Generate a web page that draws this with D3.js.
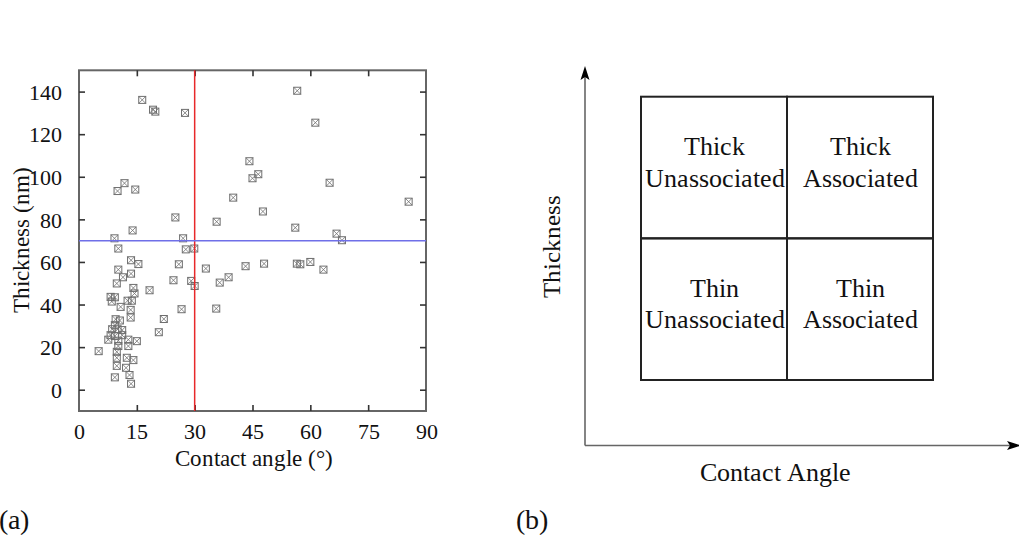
<!DOCTYPE html>
<html>
<head>
<meta charset="utf-8">
<script src="https://cdn.jsdelivr.net/npm/d3@7"></script>
<style>
  @font-face { font-family: 'ChartSerif'; src: local('Liberation Serif'), local('LiberationSerif'), local('LiberationSerif-Regular'), local('Times New Roman'); }
  html, body { margin: 0; padding: 0; background: #fff; }
  #chart text { font-family: 'ChartSerif', 'Liberation Serif', 'Times New Roman', serif; }
</style>
</head>
<body>
<svg id="chart" width="1019" height="538"></svg>
<script>
// ---- Data (panel a) ----
const contactAngle = [
  16.4, 19.2, 19.8, 27.5, 10.0, 11.8, 14.6, 25.0, 13.9, 9.2, 27.0, 10.2, 27.7, 29.9, 35.7,
  56.6, 61.3, 44.2, 45.0, 46.5, 65.0, 40.0, 47.7, 56.1, 85.5, 66.8, 68.2,
  32.9, 36.5, 38.8, 35.6, 43.2, 48.0, 56.5, 57.4, 60.0, 63.4,
  20.7, 22.0, 26.6, 24.5, 25.9, 29.1, 30.0,
  13.5, 15.4, 10.2, 11.4, 13.5, 9.8, 14.1, 14.4, 18.3, 8.2, 9.3, 8.5, 12.6, 13.7,
  10.8, 13.4, 13.4, 9.5, 10.6, 9.3, 8.6, 10.0, 11.2, 8.2, 9.3, 11.2, 7.6, 10.2, 12.8, 15.0,
  10.2, 12.8, 5.1, 9.8, 9.8, 12.4, 14.1, 9.8, 12.2, 9.3, 13.1, 13.5
];
const thickness = [
  136.1, 131.5, 130.6, 130.0, 93.3, 97.0, 94.0, 80.9, 74.8, 71.1, 71.1, 66.3, 65.9, 66.3, 78.9,
  140.4, 125.4, 107.3, 99.3, 101.2, 97.2, 90.2, 83.7, 76.1, 88.3, 73.3, 70.2,
  56.9, 50.3, 52.8, 38.1, 58.0, 59.2, 59.2, 58.9, 60.0, 56.4,
  27.0, 33.2, 37.8, 51.4, 58.9, 51.1, 48.7,
  60.8, 59.0, 56.4, 52.8, 54.5, 49.9, 47.8, 45.2, 46.7, 43.6, 43.4, 41.4, 41.8, 41.8,
  38.9, 37.5, 33.9, 33.1, 32.5, 30.3, 28.4, 28.4, 28.0, 25.6, 25.2, 25.6, 23.5, 23.0, 23.5, 22.8,
  20.5, 20.5, 18.1, 17.8, 15.0, 15.0, 13.9, 11.2, 10.3, 5.8, 6.9, 2.8
];
const xTicks = [0, 15, 30, 45, 60, 75, 90];
const yTicks = [0, 20, 40, 60, 80, 100, 120, 140];
const xDomain = [0, 90];
const yDomain = [-10, 150];
const angleThreshold = 30;
const thicknessThreshold = 70;
const xTitle = "Contact angle (°)";
const yTitle = "Thickness (nm)";

// ---- Data (panel b) ----
const quadRows = ["Thick", "Thin"];
const quadCols = ["Unassociated", "Associated"];
const diagramXTitle = "Contact Angle";
const diagramYTitle = "Thickness";
const panelLabels = ["(a)", "(b)"];

const svg = d3.select("#chart");
function txt(sel, size) {
  return sel.attr("font-size", size).attr("fill", "#111");
}

// ================= Panel (a) =================
const L = 79, R = 426, T = 70.3, B = 411;
const x = d3.scaleLinear().domain(xDomain).range([L, R]);
const y = d3.scaleLinear().domain(yDomain).range([B, T]);

const gA = svg.append("g");

gA.append("rect").attr("x", L).attr("y", T).attr("width", R - L).attr("height", B - T)
  .attr("fill", "none").attr("stroke", "#666").attr("stroke-width", 2);

const axB = gA.append("g").attr("transform", `translate(0,${B})`)
  .call(d3.axisBottom(x).tickValues(xTicks).tickSize(-6).tickPadding(12).tickFormat(d3.format("d")));
const axT = gA.append("g").attr("transform", `translate(0,${T})`)
  .call(d3.axisTop(x).tickValues(xTicks).tickSize(-6).tickFormat(""));
const axL = gA.append("g").attr("transform", `translate(${L},0)`)
  .call(d3.axisLeft(y).tickValues(yTicks).tickSize(-6).tickPadding(17).tickFormat(d3.format("d")));
const axR = gA.append("g").attr("transform", `translate(${R},0)`)
  .call(d3.axisRight(y).tickValues(yTicks).tickSize(-6).tickFormat(""));
[axB, axT, axL, axR].forEach(a => {
  a.attr("font-family", null).attr("font-size", null);
  a.select(".domain").remove();
  a.selectAll(".tick line").attr("stroke", "#333").attr("stroke-width", 1.6);
  txt(a.selectAll(".tick text"), 22);
});
axB.selectAll(".tick text").attr("dy", "0.71em");
axL.selectAll(".tick text").attr("dy", "0.35em");
axB.selectAll(".tick line").filter(d => d === 0 || d === 90).remove();
axT.selectAll(".tick line").filter(d => d === 0 || d === 90).remove();

// markers
const s = 3.5;
const pts = contactAngle.map((c, i) => ({ c, t: thickness[i] }));
const mk = gA.append("g").attr("stroke", "#6e6e6e").attr("stroke-width", 1).attr("fill", "none");
const m = mk.selectAll("g").data(pts).join("g")
  .attr("transform", d => `translate(${x(d.c)},${y(d.t)})`);
m.append("rect").attr("x", -s).attr("y", -s).attr("width", 2 * s).attr("height", 2 * s);
m.append("path").attr("d", `M${-s},${-s}L${s},${s}M${s},${-s}L${-s},${s}`).attr("stroke-width", 0.8);

// threshold lines
gA.append("line").attr("x1", x(angleThreshold)).attr("x2", x(angleThreshold))
  .attr("y1", T).attr("y2", B).attr("stroke", "#e8282a").attr("stroke-width", 1.5);
gA.append("line").attr("x1", L).attr("x2", R)
  .attr("y1", y(thicknessThreshold)).attr("y2", y(thicknessThreshold))
  .attr("stroke", "#6f6fe8").attr("stroke-width", 1.5);

// titles
txt(gA.append("text"), 23).attr("x", (L + R) / 2 + 1).attr("y", 466).attr("text-anchor", "middle").text(xTitle);
txt(gA.append("text"), 23).attr("transform", `translate(29,${(167 + 312) / 2}) rotate(-90)`)
  .attr("text-anchor", "middle").text(yTitle);

// ================= Panel (b) =================
const gB = svg.append("g");
const ox = 585, oy = 445.5;
const bx = d3.scaleBand().domain(quadCols).range([641, 933]).paddingInner(0);
const by = d3.scaleBand().domain(quadRows).range([96.7, 380]).paddingInner(0);

gB.append("line").attr("x1", ox).attr("y1", oy).attr("x2", ox).attr("y2", 76)
  .attr("stroke", "#666").attr("stroke-width", 1.6);
gB.append("line").attr("x1", ox).attr("y1", oy).attr("x2", 1010).attr("y2", oy)
  .attr("stroke", "#666").attr("stroke-width", 1.6);
gB.append("path").attr("d", `M${ox},66 L${ox - 4.5},80 L${ox},77 L${ox + 4.5},80 Z`).attr("fill", "#000");
gB.append("path").attr("d", `M1021,${oy} L1007,${oy - 4.5} L1010,${oy} L1007,${oy + 4.5} Z`).attr("fill", "#000");

const cells = [];
quadRows.forEach(r => quadCols.forEach(c => cells.push({ r, c })));
gB.selectAll("rect.cell").data(cells).join("rect").attr("class", "cell")
  .attr("x", d => bx(d.c)).attr("y", d => by(d.r))
  .attr("width", bx.bandwidth()).attr("height", by.bandwidth())
  .attr("fill", "none").attr("stroke", "#222").attr("stroke-width", 2);
const ct = txt(gB.selectAll("text.cell").data(cells).join("text").attr("class", "cell"), 26)
  .attr("text-anchor", "middle");
ct.append("tspan").attr("x", d => bx(d.c) + bx.bandwidth() / 2 + 0.5)
  .attr("y", d => by(d.r) + 58.5).text(d => d.r);
ct.append("tspan").attr("x", d => bx(d.c) + bx.bandwidth() / 2 + 0.5)
  .attr("y", d => by(d.r) + 90).text(d => d.c);

txt(gB.append("text"), 26).attr("x", 775).attr("y", 481).attr("text-anchor", "middle").text(diagramXTitle);
txt(gB.append("text"), 25).attr("transform", `translate(560,246) rotate(-90)`)
  .attr("text-anchor", "middle").text(diagramYTitle);

txt(svg.selectAll("text.panel").data(panelLabels).join("text").attr("class", "panel"), 28)
  .attr("x", (d, i) => i === 0 ? -1 : 516).attr("y", 529).text(d => d);
</script>
</body>
</html>
